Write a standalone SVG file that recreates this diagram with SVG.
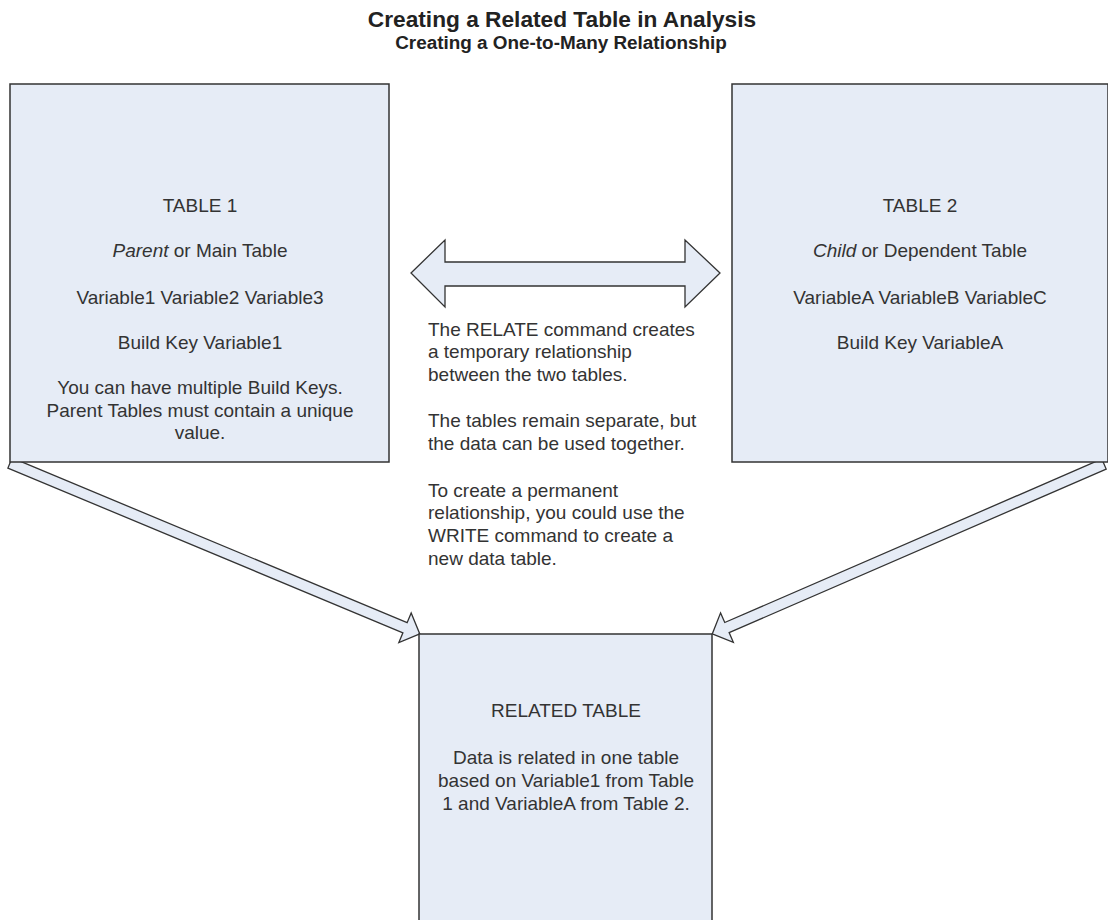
<svg xmlns="http://www.w3.org/2000/svg" width="1108" height="920" viewBox="0 0 1108 920">
<style>
.box{fill:#e6ecf6;stroke:#333;stroke-width:1.5}
.arrow{fill:#e6ecf6;stroke:#333;stroke-width:1.3;stroke-linejoin:miter}
.t{font-family:"Liberation Sans",Arial,sans-serif;font-size:19px;fill:#333;text-anchor:middle}
.m{font-family:"Liberation Sans",Arial,sans-serif;font-size:19px;fill:#333}
.h1{font-family:"Liberation Sans",Arial,sans-serif;font-size:22.7px;font-weight:bold;fill:#222;text-anchor:middle}
.h2{font-family:"Liberation Sans",Arial,sans-serif;font-size:18.9px;font-weight:bold;fill:#222;text-anchor:middle}
</style>
<rect width="1108" height="920" fill="#fff"/>
<g id="title">
<text class="h1" x="562" y="27">Creating a Related Table in Analysis</text>
<text class="h2" x="561" y="49">Creating a One-to-Many Relationship</text>
</g>
<g id="connectors">
<polygon class="arrow" points="411,273 445,240 445,262 685,262 685,240 720,273 685,307 685,286 445,286 445,307"/>
<polygon class="arrow" transform="translate(10,463) rotate(22.64)" points="0,-5.5 428,-5.5 428,-16 444,0 428,16 428,5.5 0,5.5"/>
<polygon class="arrow" transform="translate(1104,464) rotate(156.55)" points="0,-5.5 411,-5.5 411,-16 427,0 411,16 411,5.5 0,5.5"/>
</g>
<g id="table1">
<rect class="box" x="10" y="84" width="379" height="378"/>
<text class="t" x="200" y="212">TABLE 1</text>
<text class="t" x="200" y="257"><tspan font-style="italic">Parent</tspan> or Main Table</text>
<text class="t" x="200" y="304">Variable1 Variable2 Variable3</text>
<text class="t" x="200" y="349">Build Key Variable1</text>
<text class="t" x="200" y="394">You can have multiple Build Keys.</text>
<text class="t" x="200" y="417">Parent Tables must contain a unique</text>
<text class="t" x="200" y="439">value.</text>
</g>
<g id="table2">
<rect class="box" x="732" y="84" width="376" height="378"/>
<text class="t" x="920" y="212">TABLE 2</text>
<text class="t" x="920" y="257"><tspan font-style="italic">Child</tspan> or Dependent Table</text>
<text class="t" x="920" y="304">VariableA VariableB VariableC</text>
<text class="t" x="920" y="349">Build Key VariableA</text>
</g>
<g id="relate-note">
<text class="m" x="428" y="336">The RELATE command creates</text>
<text class="m" x="428" y="358">a temporary relationship</text>
<text class="m" x="428" y="381">between the two tables.</text>
<text class="m" x="428" y="427">The tables remain separate, but</text>
<text class="m" x="428" y="450">the data can be used together.</text>
<text class="m" x="428" y="497">To create a permanent</text>
<text class="m" x="428" y="519">relationship, you could use the</text>
<text class="m" x="428" y="542">WRITE command to create a</text>
<text class="m" x="428" y="565">new data table.</text>
</g>
<g id="related-table">
<rect class="box" x="419" y="634" width="293" height="300"/>
<text class="t" x="566" y="717">RELATED TABLE</text>
<text class="t" x="566" y="764">Data is related in one table</text>
<text class="t" x="566" y="787">based on Variable1 from Table</text>
<text class="t" x="566" y="810">1 and VariableA from Table 2.</text>
</g>
</svg>
